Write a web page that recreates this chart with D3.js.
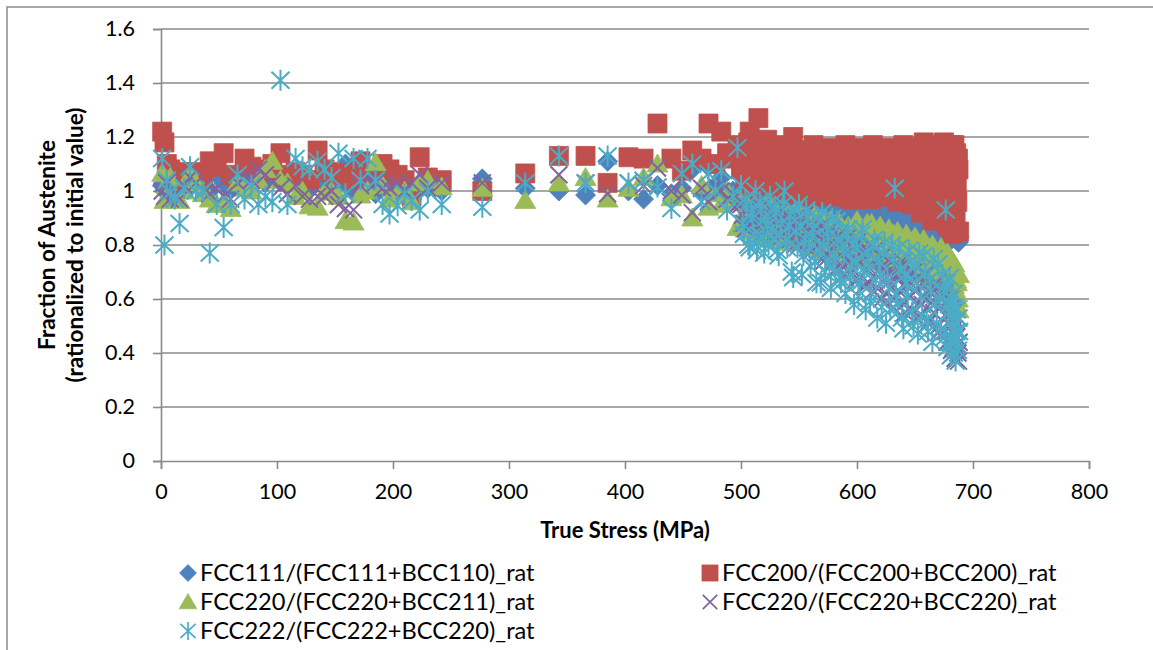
<!DOCTYPE html>
<html><head><meta charset="utf-8">
<script src="https://cdn.jsdelivr.net/npm/d3@7"></script>
<style>body{margin:0;background:#fff}svg{display:block}text{font-family:Lato,"Open Sans",sans-serif;fill:#000}</style>
</head><body><svg id="c" width="1153" height="650"></svg>
<script>
// True stress (MPa), shared by all series
const stress = [1,3,5,8,12,16,20,25,30,36,42,48,54,60,66,72,78,84,90,96,103,109,116,122,128,135,141,147,153,159,166,172,178,185,191,197,204,210,216,223,230,242,
277,314,343,366,385,403,416,428,440,449,458,466,472,478,483,488,493,497,
500,502.5,505,507.5,510,512.5,515,517.5,520,522.5,525,527.5,530,532.5,535,537.5,540,542.5,545,547.5,550,552.5,555,557.5,560,562.5,565,567.5,570,572.5,575,577.5,580,582.5,585,587.5,590,592.5,595,597.5,600,602.5,605,607.5,610,612.5,615,617.5,620,622.5,625,627.5,630,632.5,635,637.5,640,642.5,645,647.5,650,652.5,655,657.5,660,662.5,665,667.5,670,672.5,675,
676.5,678,679,680,681,682,683,684,685,686,687,688,
501.25,503.75,506.25,508.75,511.25,513.75,516.25,518.75,521.25,523.75,526.25,528.75,531.25,533.75,536.25,538.75,541.25,543.75,546.25,548.75,551.25,553.75,556.25,558.75,561.25,563.75,566.25,568.75,571.25,573.75,576.25,578.75,581.25,583.75,586.25,588.75,591.25,593.75,596.25,598.75,601.25,603.75,606.25,608.75,611.25,613.75,616.25,618.75,621.25,623.75,626.25,628.75,631.25,633.75,636.25,638.75,641.25,643.75,646.25,648.75,651.25,653.75,656.25,658.75,661.25,663.75,666.25,668.75,671.25,673.75,
676,677.5,679.5,680.5,681.5,682.5,683.5,684.5,685.5,686.5,687.5];

const fcc111 = [1.02,1.0,1.04,1.01,1.0,0.99,1.03,1.02,1.06,1.04,1.0,1.06,1.03,1.01,1.05,1.02,1.04,1.07,1.03,1.09,1.05,1.02,1.06,1.04,1.01,1.05,1.03,1.07,1.02,1.10,1.0,1.04,1.02,0.99,1.03,1.0,0.99,1.02,0.97,1.03,1.01,1.0,
1.045,1.01,1.0,0.985,1.11,1.0,0.97,1.02,0.99,1.01,1.08,1.0,1.09,1.02,1.05,0.98,1.0,0.97,
1.0,0.97,1.03,0.99,0.96,1.01,0.98,1.04,0.97,1.0,0.95,
0.99,0.96,1.01,0.97,0.94,0.99,0.96,1.0,0.95,0.98,
0.94,0.97,0.99,0.95,0.93,0.97,0.94,0.98,0.93,0.96,
0.92,0.95,0.97,0.93,0.91,0.95,0.92,0.96,0.90,0.94,
0.91,0.89,0.93,0.90,0.94,0.88,0.92,0.90,0.87,0.93,
0.89,0.91,0.87,0.92,0.88,0.86,0.91,0.89,0.87,0.90,
0.86,0.88,0.91,0.85,0.89,0.87,0.85,0.90,0.86,0.88,
0.85,0.89,0.86,0.84,0.88,0.85,0.83,0.87,0.84,0.82,0.86,0.83,
0.98,1.02,0.95,1.0,0.97,1.03,0.96,0.99,1.01,0.95,
0.98,1.0,0.94,0.97,0.99,0.95,0.98,0.93,0.97,0.99,
0.96,0.93,0.98,0.94,0.96,0.92,0.97,0.95,0.91,0.95,
0.94,0.96,0.91,0.94,0.93,0.90,0.95,0.92,0.89,0.93,
0.92,0.90,0.93,0.88,0.91,0.89,0.92,0.87,0.90,0.88,
0.91,0.88,0.86,0.90,0.87,0.89,0.85,0.88,0.90,0.86,
0.88,0.86,0.89,0.84,0.87,0.85,0.88,0.84,0.86,0.87,
0.84,0.86,0.83,0.85,0.82,0.86,0.83,0.85,0.82,0.84,0.81];

const fcc200 = [1.22,1.18,1.10,1.08,1.04,1.07,1.05,1.06,1.07,1.05,1.11,1.09,1.14,1.06,1.05,1.12,1.09,1.08,1.07,1.10,1.14,1.06,1.07,1.06,1.04,1.15,1.08,1.07,1.06,1.065,1.04,1.11,1.05,1.07,1.10,1.08,1.06,1.04,0.98,1.125,1.05,1.04,
1.0,1.065,1.13,1.13,1.03,1.125,1.12,1.25,1.12,1.075,1.15,1.12,1.25,1.10,1.22,1.14,1.12,1.17,
1.08,1.16,1.01,1.22,1.11,1.04,1.27,1.13,0.99,1.19,
1.06,1.15,1.02,1.10,1.17,0.99,1.12,1.05,1.20,1.01,
1.09,1.15,1.03,1.12,0.98,1.17,1.06,1.13,1.00,1.09,
1.16,1.03,1.11,0.98,1.14,1.06,1.17,1.00,1.10,1.15,
0.97,1.08,1.16,1.02,1.12,0.97,1.15,1.05,1.13,0.98,
1.16,1.07,1.01,1.14,0.96,1.10,1.17,1.03,1.12,0.95,
1.15,1.06,0.92,1.18,1.01,1.11,0.89,1.16,1.04,0.94,
1.18,1.08,0.87,1.13,0.98,1.16,0.84,1.06,1.17,0.91,1.02,1.12,0.85,
1.12,1.03,1.18,1.07,1.00,1.14,1.09,1.02,1.16,1.05,
1.11,0.99,1.14,1.07,1.02,1.16,1.09,0.99,1.13,1.06,
1.03,1.12,1.07,1.00,1.15,1.04,1.10,0.98,1.14,1.06,
1.01,1.13,1.08,0.99,1.15,1.04,1.10,0.97,1.13,1.06,
1.11,1.00,1.14,1.06,0.98,1.17,1.09,1.01,1.14,1.06,
1.02,1.12,0.98,1.15,1.08,0.99,1.13,1.05,0.97,1.16,
0.99,1.12,1.07,0.95,1.14,0.98,1.09,1.17,0.91,1.10,
0.96,1.14,1.03,0.90,1.17,1.00,1.10,0.88,1.14,0.96,1.08];

const fcc220a = [1.065,0.965,1.02,1.05,0.98,0.965,1.0,1.06,1.03,0.99,0.97,0.95,0.96,0.935,1.03,1.01,1.0,1.04,1.08,1.11,1.04,1.03,0.98,1.0,0.945,0.94,0.995,1.0,0.98,0.89,0.885,0.985,1.0,1.105,1.02,0.97,0.99,1.0,0.96,1.03,1.04,1.015,
1.01,0.965,1.03,1.05,0.97,1.01,1.05,1.10,0.975,0.985,0.90,1.02,0.94,0.99,0.95,1.0,0.96,0.865,
0.96,0.88,0.93,0.85,0.91,0.95,0.87,0.92,0.84,0.90,
0.94,0.86,0.91,0.83,0.89,0.93,0.85,0.90,0.82,0.88,
0.92,0.83,0.89,0.81,0.87,0.91,0.80,0.86,0.90,0.79,
0.85,0.89,0.78,0.84,0.88,0.77,0.83,0.87,0.76,0.82,
0.89,0.80,0.86,0.75,0.84,0.88,0.78,0.83,0.87,0.74,
0.82,0.86,0.76,0.81,0.85,0.73,0.80,0.84,0.72,0.79,
0.83,0.71,0.78,0.82,0.70,0.77,0.80,0.68,0.75,0.79,
0.67,0.74,0.77,0.64,0.72,0.75,0.61,0.70,0.73,0.58,0.66,0.60,0.69,
0.90,0.86,0.94,0.88,0.83,0.92,0.86,0.89,0.95,0.85,
0.88,0.82,0.92,0.87,0.84,0.90,0.81,0.87,0.92,0.84,
0.86,0.90,0.82,0.85,0.79,0.88,0.83,0.78,0.86,0.82,
0.80,0.87,0.83,0.78,0.85,0.80,0.75,0.86,0.81,0.78,
0.84,0.77,0.82,0.88,0.79,0.74,0.85,0.80,0.76,0.83,
0.78,0.72,0.84,0.79,0.75,0.82,0.70,0.77,0.81,0.74,
0.80,0.75,0.69,0.78,0.73,0.67,0.79,0.72,0.77,0.66,
0.76,0.70,0.63,0.74,0.68,0.71,0.65,0.59,0.67,0.62,0.56];

const fcc220b = [1.0,0.98,1.03,0.97,0.99,0.97,1.02,1.05,1.03,1.0,0.99,1.01,0.98,0.97,1.03,1.05,1.04,1.08,1.06,1.03,1.01,0.99,1.02,0.98,0.97,0.98,0.98,1.0,0.95,0.935,0.93,1.02,1.045,1.03,1.01,1.01,1.03,1.0,1.03,1.06,1.01,1.03,
1.03,1.03,1.06,1.03,0.99,1.03,1.02,1.085,1.0,0.985,0.92,1.01,0.96,1.02,1.0,0.97,0.99,0.95,
0.95,0.88,0.93,0.86,0.91,0.96,0.87,0.92,0.85,0.90,
0.94,0.84,0.89,0.92,0.83,0.88,0.91,0.82,0.87,0.90,
0.80,0.86,0.91,0.79,0.84,0.88,0.77,0.83,0.87,0.76,
0.82,0.86,0.74,0.80,0.84,0.72,0.78,0.83,0.70,0.76,
0.81,0.68,0.75,0.79,0.66,0.73,0.78,0.64,0.71,0.76,
0.62,0.69,0.74,0.60,0.67,0.72,0.58,0.65,0.70,0.56,
0.63,0.68,0.54,0.61,0.66,0.52,0.59,0.64,0.50,0.57,
0.62,0.48,0.55,0.60,0.45,0.52,0.57,0.42,0.49,0.38,0.46,0.40,0.44,
0.91,0.86,0.94,0.88,0.93,0.85,0.90,0.95,0.84,0.89,
0.86,0.92,0.85,0.90,0.87,0.82,0.89,0.85,0.80,0.88,
0.83,0.89,0.81,0.86,0.78,0.85,0.80,0.87,0.74,0.81,
0.78,0.84,0.71,0.82,0.76,0.69,0.81,0.74,0.79,0.67,
0.73,0.78,0.65,0.71,0.80,0.63,0.74,0.68,0.60,0.73,
0.66,0.71,0.57,0.68,0.63,0.74,0.55,0.67,0.61,0.70,
0.53,0.65,0.58,0.69,0.51,0.62,0.55,0.66,0.48,0.60,
0.54,0.44,0.58,0.50,0.41,0.55,0.47,0.38,0.52,0.43,0.37];

const fcc222 = [1.12,0.80,1.04,0.995,0.97,0.88,1.01,1.09,1.0,1.0,0.77,0.95,0.865,0.95,1.06,0.97,1.02,0.95,0.98,0.96,1.41,0.95,1.12,1.09,1.08,1.11,1.08,1.05,1.14,0.99,1.12,1.04,1.12,1.04,0.95,0.915,0.945,0.99,0.965,0.93,1.0,0.95,
0.94,1.03,1.13,1.03,1.13,1.03,1.04,1.015,0.935,1.065,1.10,0.96,1.065,1.0,1.075,0.93,0.98,1.16,
1.02,0.84,0.95,0.79,0.90,1.0,0.81,0.93,0.77,0.87,
0.98,0.82,0.92,0.76,0.88,1.0,0.79,0.91,0.68,0.85,
0.95,0.69,0.82,0.90,0.72,0.86,0.66,0.78,0.92,0.70,
0.83,0.64,0.76,0.89,0.68,0.80,0.62,0.86,0.72,0.58,
0.79,0.66,0.86,0.56,0.73,0.62,0.82,0.53,0.69,0.77,
0.51,0.64,0.80,1.01,0.58,0.71,0.49,0.66,0.78,0.55,
0.72,0.47,0.61,0.76,0.52,0.67,0.44,0.58,0.73,0.49,
0.63,0.93,0.42,0.55,0.68,0.39,0.50,0.62,0.45,0.37,0.56,0.41,0.48,
0.88,0.97,0.80,0.92,0.84,0.78,0.96,0.83,0.90,0.80,
0.86,0.94,0.78,0.84,0.95,0.82,0.87,0.70,0.93,0.79,
0.87,0.76,0.93,0.79,0.83,0.74,0.90,0.66,0.80,0.87,
0.73,0.90,0.70,0.82,0.66,0.77,0.84,0.68,0.80,0.74,
0.61,0.84,0.70,0.77,0.59,0.80,0.67,0.74,0.57,0.81,
0.68,0.56,0.75,0.62,0.79,0.53,0.69,0.61,0.74,0.50,
0.66,0.77,0.54,0.70,0.48,0.63,0.75,0.51,0.60,0.69,
0.46,0.66,0.58,0.44,0.60,0.52,0.40,0.57,0.48,0.43,0.53];

const seriesNames = ["FCC111/(FCC111+BCC110)_rat","FCC200/(FCC200+BCC200)_rat","FCC220/(FCC220+BCC211)_rat","FCC220/(FCC220+BCC220)_rat","FCC222/(FCC222+BCC220)_rat"];
const seriesValues = [fcc111, fcc200, fcc220a, fcc220b, fcc222];
const seriesColors = ["#4F81BD","#C0504D","#9BBB59","#8064A2","#4BACC6"];
const xTicks = [0,100,200,300,400,500,600,700,800];
const yTicks = [0,0.2,0.4,0.6,0.8,1,1.2,1.4,1.6];
const xTitle = "True Stress (MPa)";
const yTitle = ["Fraction of Austenite","(rationalized to initial value)"];

const svg = d3.select("#c");
const L=161, R=1089, T=29, B=461;
const x = d3.scaleLinear().domain([0,800]).range([L,R]);
const y = d3.scaleLinear().domain([0,1.6]).range([B,T]);
const gridCol = "#8a8a8a";

// frame
svg.append("path").attr("d","M7,660L7,7L1160,7").attr("fill","none").attr("stroke","#8a8a8a").attr("stroke-width",1.5);

// gridlines
svg.append("g").selectAll("line").data(yTicks.filter(d=>d>0)).join("line")
  .attr("x1",L).attr("x2",R).attr("y1",d=>y(d)).attr("y2",d=>y(d))
  .attr("stroke",gridCol).attr("stroke-width",1.6);

// axes
const ya = svg.append("g").attr("transform",`translate(${L},0)`)
  .call(d3.axisLeft(y).tickValues(yTicks).tickFormat(d3.format("~g")).tickSize(8).tickPadding(18));
const xa = svg.append("g").attr("transform",`translate(0,${B})`)
  .call(d3.axisBottom(x).tickValues(xTicks).tickFormat(d3.format("d")).tickSize(8).tickPadding(15));
[ya,xa].forEach(a=>{
  a.select(".domain").attr("stroke",gridCol).attr("stroke-width",1.6);
  a.selectAll(".tick line").attr("stroke",gridCol).attr("stroke-width",1.6);
  a.selectAll("text").style("font-family","Lato").style("font-size","21.5px").attr("fill","#000");
});

// titles
svg.append("text").attr("x",(L+R)/2).attr("y",538).attr("text-anchor","middle")
  .style("font-size","22px").style("font-weight","bold").text(xTitle);
yTitle.forEach((t,i)=>{
  svg.append("text").attr("transform",`translate(${55+i*28},${(T+B)/2}) rotate(-90)`)
    .attr("text-anchor","middle").style("font-size","22.5px").style("font-weight","bold").text(t);
});

// marker shapes
const shapes = [
  {d:"M0,-10L10,0L0,10L-10,0Z", fill:true},
  {d:"M-9.5,-9.5h19v19h-19Z", fill:true},
  {d:"M0,-10L10.5,8L-10.5,8Z", fill:true},
  {d:"M-8.5,-8.5L8.5,8.5M-8.5,8.5L8.5,-8.5", fill:false},
  {d:"M-9,-8.5L9,8.5M-9,8.5L9,-8.5M0,-10.5L0,10.5", fill:false}
];
function style(sel,k){
  const c=seriesColors[k];
  if(shapes[k].fill) sel.attr("fill",c).attr("stroke",c).attr("stroke-width",0.8);
  else sel.attr("fill","none").attr("stroke",c).attr("stroke-width",2);
}

seriesValues.forEach((vals,k)=>{
  const g = svg.append("g");
  g.selectAll("path").data(stress.map((s,i)=>[s,vals[i]])).join("path")
    .attr("d",shapes[k].d)
    .attr("transform",d=>`translate(${x(d[0])},${y(d[1])})`)
    .call(style,k);
});

// legend
const legPos = [[188,573],[710,573],[188,602],[710,602],[188,631]];
seriesNames.forEach((n,k)=>{
  const [lx,ly]=legPos[k];
  svg.append("path").attr("d",shapes[k].d).attr("transform",`translate(${lx},${ly}) scale(0.85)`).call(style,k);
  svg.append("text").attr("x",lx+12).attr("y",ly+8).style("font-size","23.6px").text(n);
});
</script></body></html>
